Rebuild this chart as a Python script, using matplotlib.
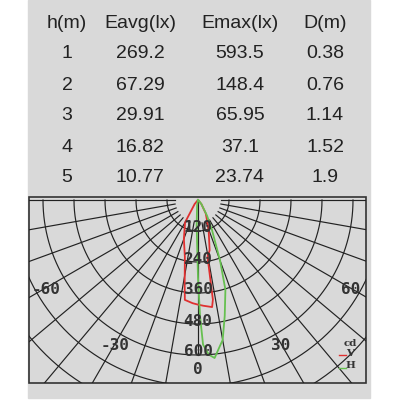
import numpy as np
import matplotlib
matplotlib.use("Agg")
import matplotlib.pyplot as plt
from matplotlib.patches import Rectangle

# table data
headers = ["h(m)", "Eavg(lx)", "Emax(lx)", "D(m)"]
heights = ["1", "2", "3", "4", "5"]
eavg = ["269.2", "67.29", "29.91", "16.82", "10.77"]
emax = ["593.5", "148.4", "65.95", "37.1", "23.74"]
dist = ["0.38", "0.76", "1.14", "1.52", "1.9"]

# polar curves: angle (deg from nadir), intensity (cd)
v_ang = [-40, -30, -20, -13, -9, -7.5, -3, 0, 3, 7.5, 8.5, 9.5, 13, 20, 30, 40]
v_cd = [20, 100, 160, 226, 330, 390, 400, 405, 410, 418, 390, 223, 200, 120, 60, 20]
h_ang = [-10, -3, 0, 1, 2, 4, 6, 8, 10, 13, 17, 20, 25, 30, 40, 50]
h_cd = [20, 100, 300, 450, 560, 600, 615, 580, 550, 460, 363, 250, 128, 70, 20, 5]

rings = [120, 240, 360, 480, 600, 720, 840]
ring_labels = [120, 240, 360, 480, 600]
angle_labels = [-60, -30, 0, 30, 60]

fig = plt.figure(figsize=(4, 4), dpi=100)
ax = fig.add_axes([0, 0, 1, 1])
ax.set_xlim(0, 400)
ax.set_ylim(400, 0)
ax.axis("off")

GREY = "#d9d9d9"
ax.add_patch(Rectangle((28, 0), 342, 398, color=GREY, zorder=0))

# table
cols = [67, 140, 240, 325]
for x, h in zip(cols, headers):
    ax.text(x, 24, h, ha="center", va="center", fontsize=14, color="#222",
            family="Liberation Sans")
for i in range(5):
    y = 54 + i * 31
    for x, val in zip(cols, [heights[i], eavg[i], emax[i], dist[i]]):
        ax.text(x, y, val, ha="center", va="center", fontsize=14, color="#222",
                family="Liberation Sans")

# polar box
cx, cy, s = 198, 200, 155 / 600
box = Rectangle((29, 197), 337, 186, facecolor=GREY, edgecolor="#333", lw=1.2, zorder=1)
ax.add_patch(box)


def xy(ang, cd):
    a = np.radians(np.asarray(ang, float))
    r = np.asarray(cd, float) * s
    return cx + r * np.sin(a), cy + r * np.cos(a)


t = np.linspace(-90, 90, 361)
for r in rings:
    x, y = xy(t, np.full_like(t, r))
    ln, = ax.plot(x, y, color="#222", lw=0.85, zorder=2)
    ln.set_clip_path(box)
for a in range(-90, 91, 10):
    if a == 0:
        x, y = xy([0, 0], [0, 600])
    else:
        x, y = xy([a, a], [90, 1000])
    ln, = ax.plot(x, y, color="#222", lw=0.85, zorder=2)
    ln.set_clip_path(box)

for r in ring_labels:
    ax.text(cx, cy + r * s - 3, str(r), ha="center", va="center", fontsize=11.5,
            family="DejaVu Sans Mono", fontweight="bold", color="#333", zorder=4)
for a in angle_labels:
    x, y = xy(a, 680 if abs(a) == 60 else 640)
    ax.text(x, y + (2 if a else 4), str(a), ha="center", va="center", fontsize=11.5,
            family="DejaVu Sans Mono", fontweight="bold", color="#333", zorder=4)

x, y = xy(v_ang, v_cd)
ax.plot(np.r_[cx, x, cx], np.r_[cy, y, cy], color="#e03030", lw=1.3, zorder=3)
x, y = xy(h_ang, h_cd)
ax.plot(np.r_[cx, x, cx], np.r_[cy, y, cy], color="#66c050", lw=1.3, zorder=3)

# legend
ax.text(350, 344, "cd", ha="center", va="center", fontsize=7.5, family="DejaVu Serif",
        fontweight="bold", color="#333", zorder=4)
ax.plot([339, 346], [355, 355], color="#e03030", lw=1)
ax.text(350, 353, "V", ha="center", va="center", fontsize=7.5, family="DejaVu Serif",
        fontweight="bold", color="#333")
ax.plot([339, 346], [368, 368], color="#66c050", lw=1)
ax.text(350, 366, "H", ha="center", va="center", fontsize=7.5, family="DejaVu Serif",
        fontweight="bold", color="#333")

fig.savefig("out.png", dpi=100)
